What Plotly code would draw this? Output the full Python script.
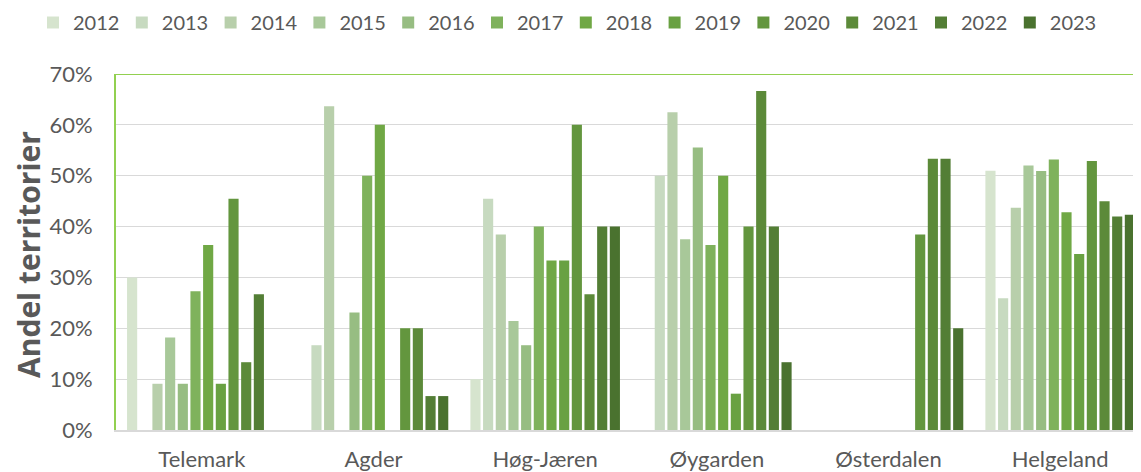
import plotly.graph_objects as go

categories = ["Telemark", "Agder", "Høg-Jæren", "Øygarden", "Østerdalen", "Helgeland"]
years = ["2012", "2013", "2014", "2015", "2016", "2017", "2018", "2019", "2020", "2021", "2022", "2023"]

# share of territories per region (fraction), one list per year; None = no bar
v2012 = [0.30, None, 0.10, None, None, 0.510]
v2013 = [None, 0.1667, 0.4545, 0.50, None, 0.259]
v2014 = [0.0909, 0.6364, 0.3846, 0.625, None, 0.437]
v2015 = [0.1818, None, 0.2143, 0.375, None, 0.520]
v2016 = [0.0909, 0.2308, 0.1667, 0.5556, None, 0.5095]
v2017 = [0.2727, 0.50, 0.40, 0.3636, None, 0.532]
v2018 = [0.3636, 0.60, 0.3333, 0.50, None, 0.428]
v2019 = [0.0909, None, 0.3333, 0.0714, None, 0.346]
v2020 = [0.4545, 0.20, 0.60, 0.40, 0.3846, 0.529]
v2021 = [0.1333, 0.20, 0.2667, 0.6667, 0.5333, 0.450]
v2022 = [0.2667, 0.0667, 0.40, 0.40, 0.5333, 0.420]
v2023 = [None, 0.0667, 0.40, 0.1333, 0.20, 0.423]

series = [v2012, v2013, v2014, v2015, v2016, v2017, v2018, v2019, v2020, v2021, v2022, v2023]
colors = ["#D6E4CE", "#C7DAC0", "#B8CFAB", "#A8C899", "#97BD82", "#7FB25C",
          "#70A845", "#69A142", "#63963E", "#5C8A39", "#537E35", "#4A722F"]

y_title = "Andel territorier"

FONT = "Lato"
TXT = "#595959"

# the page body has an 8px margin, so the figure is sized/offset to compensate
OFF = 8
W, H = 1141 - OFF, 472 - OFF
L, T, B = 116 - OFF, 74 - OFF, 42
PW, PH = W - L, H - T - B

fig = go.Figure()
for yr, vals, col in zip(years, series, colors):
    fig.add_trace(go.Bar(
        name=yr, x=list(range(len(categories))), y=vals,
        marker=dict(color=col, line=dict(width=0)),
    ))

fig.update_layout(
    width=W, height=H,
    margin=dict(l=L, r=0, t=T, b=B, autoexpand=False),
    paper_bgcolor="white", plot_bgcolor="white",
    barmode="group", bargap=0.114, bargroupgap=0.2,
    font=dict(family=FONT, size=20, color=TXT),
    showlegend=True,
    legend=dict(orientation="h", xref="paper", yref="paper",
                x=(33 - 116) / PW, xanchor="left",
                y=1 + (T - (22.5 - OFF)) / PH, yanchor="middle",
                font=dict(family=FONT, size=20, color=TXT),
                entrywidth=43.8, entrywidthmode="pixels",
                traceorder="normal", itemclick=False),
    xaxis=dict(
        tickmode="array", tickvals=list(range(len(categories))), ticktext=categories,
        range=[-0.5, 5.5 - 5 / 171.6],
        showgrid=False, zeroline=False,
        showline=True, linecolor="#D9D9D9", linewidth=1.5,
        ticks="outside", ticklen=9, tickcolor="rgba(0,0,0,0)",
        tickfont=dict(family=FONT, size=22, color=TXT),
    ),
    yaxis=dict(
        range=[0, 0.70], dtick=0.10, tickformat=".0%",
        showgrid=True, gridcolor="#D9D9D9", gridwidth=1.3,
        zeroline=False,
        showline=True, linecolor="#92D050", linewidth=2,
        ticks="", ticklabelstandoff=17,
        tickfont=dict(family=FONT, size=22, color=TXT),
    ),
    annotations=[dict(text="<b>" + y_title + "</b>", textangle=-90,
                      xref="paper", yref="paper",
                      x=(28 - OFF - L) / PW, y=1 - (255 - 74) / PH,
                      xanchor="center", yanchor="middle", showarrow=False,
                      borderpad=0,
                      font=dict(family="Open Sans", size=30, color=TXT))],
    shapes=[dict(type="line", xref="paper", yref="y", x0=0, x1=1, y0=0.70, y1=0.70,
                 line=dict(color="#92D050", width=2))],
)

fig.write_html("out.html")
